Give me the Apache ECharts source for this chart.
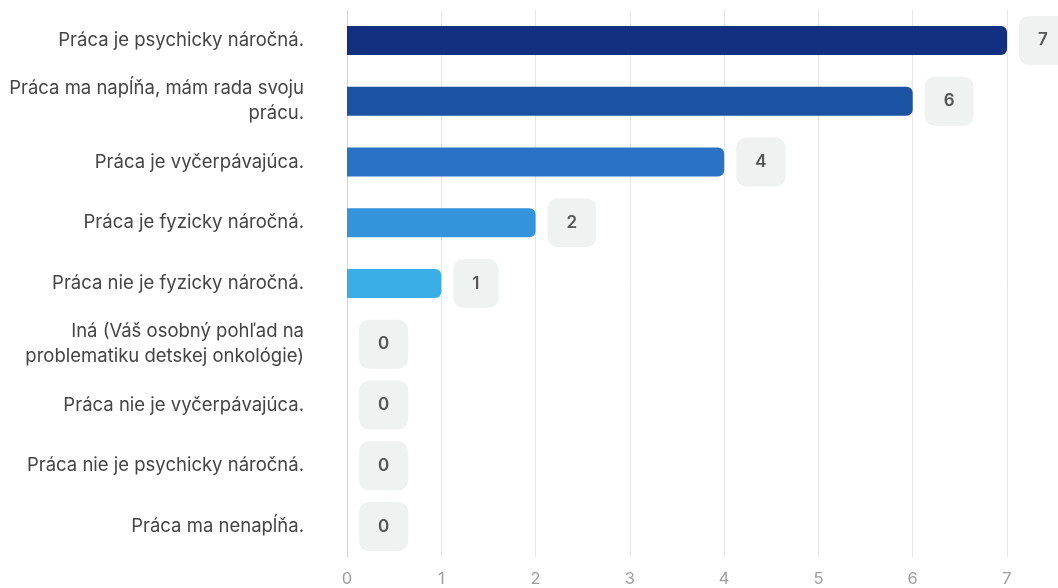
<!DOCTYPE html>
<html><head><meta charset="utf-8">
<script src="https://cdn.jsdelivr.net/npm/echarts@6/dist/echarts.min.js"></script>
<style>html,body{margin:0;padding:0;background:#fff}#c{width:1058px;height:588px}</style>
</head><body><div id="c"></div>
<script>
const categories = [
  "Práca je psychicky náročná.",
  "Práca ma napĺňa, mám rada svoju\nprácu.",
  "Práca je vyčerpávajúca.",
  "Práca je fyzicky náročná.",
  "Práca nie je fyzicky náročná.",
  "Iná (Váš osobný pohľad na\nproblematiku detskej onkológie)",
  "Práca nie je vyčerpávajúca.",
  "Práca nie je psychicky náročná.",
  "Práca ma nenapĺňa."
];
const values = [7, 6, 4, 2, 1, 0, 0, 0, 0];
const barColors = ["#12307f", "#1b52a2", "#2a72c3", "#3593db", "#3aaee6", "#3aaee6", "#3aaee6", "#3aaee6", "#3aaee6"];
const xTicks = [0, 1, 2, 3, 4, 5, 6, 7];

const chart = echarts.init(document.getElementById('c'));
chart.setOption({
  animation: false,
  grid: { left: 347, right: 51, top: 10, bottom: 31, containLabel: false },
  xAxis: {
    type: 'value', min: xTicks[0], max: xTicks[xTicks.length - 1], interval: 1,
    axisLine: { show: false }, axisTick: { show: false },
    splitLine: { lineStyle: { color: '#e6e6e6', width: 1 } },
    axisLabel: { color: '#a0a0a0', fontFamily: 'Inter', fontSize: 16.5, margin: 14 }
  },
  yAxis: {
    type: 'category', inverse: true, data: categories,
    axisLine: { show: true, lineStyle: { color: '#ccd6eb', width: 1 } },
    axisTick: { show: false },
    axisLabel: { color: '#444', fontFamily: 'Inter', fontSize: 18.5, lineHeight: 25, margin: 43, align: 'right', padding: [6, 0, 0, 0] }
  },
  series: [{
    type: 'bar',
    data: values.map((v, i) => ({ value: v, itemStyle: { color: barColors[i] } })),
    barWidth: 29,
    itemStyle: { borderRadius: [0, 6, 6, 0] },
    label: {
      show: true, position: 'right', distance: 12,
      backgroundColor: '#f0f1f1', borderRadius: 10,
      padding: [0, 19], height: 49, lineHeight: 49,
      color: '#555', fontFamily: 'Inter', fontSize: 17, fontWeight: 600
    }
  }]
});
</script></body></html>
